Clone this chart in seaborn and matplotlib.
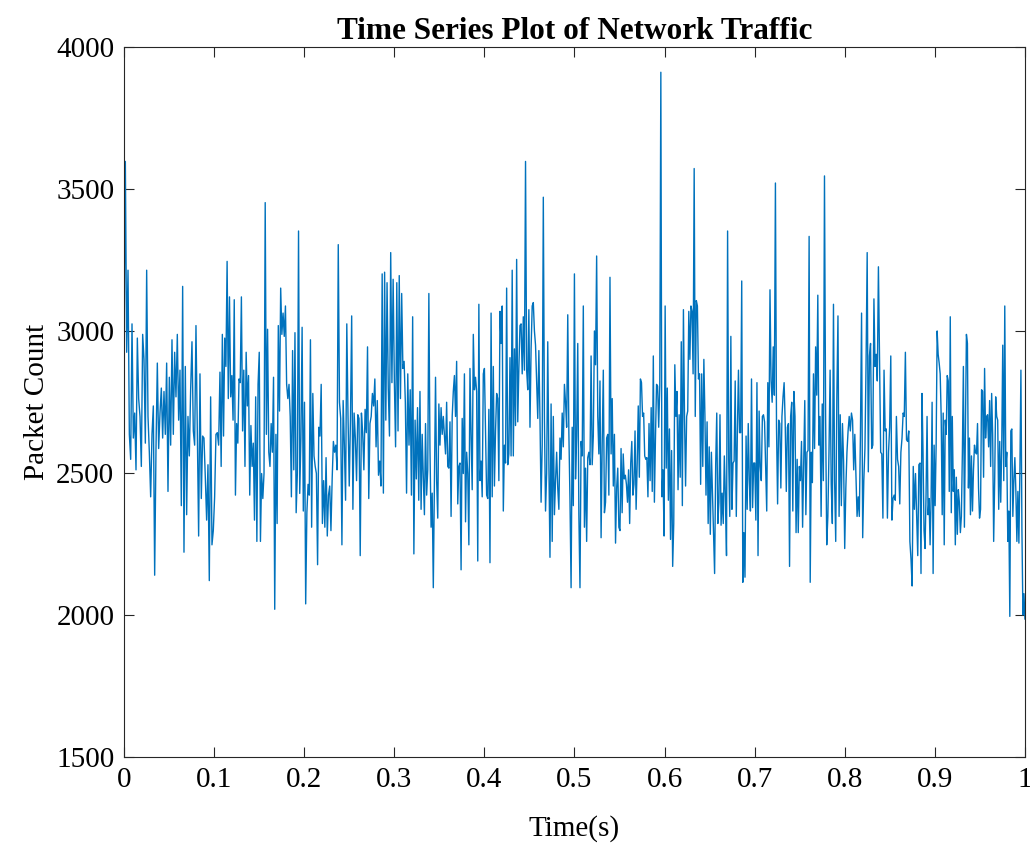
import matplotlib
matplotlib.use('Agg')
import matplotlib.pyplot as plt
import seaborn as sns
import pandas as pd
import numpy as np


# time (s) at which each block of readings starts/ends
segment_bounds = [0.0, 0.1065, 0.2175, 0.3285, 0.4395, 0.5505, 0.6615, 0.7725, 0.8835, 1.0]

seg1 = [2925, 3597, 2925, 3214, 2636, 2548, 3025, 2623, 2711, 2511, 2975, 2762, 2699, 2523, 2988,
        2900, 2605, 3214, 2699, 2573, 2416, 2636, 2736, 2140, 2586, 2887, 2586, 2711, 2799, 2623,
        2787, 2636, 2887, 2435, 2837, 2598, 2969, 2636, 2925, 2768, 2988, 2686, 2862, 2385, 3157,
        2221, 2875, 2353, 2699, 2560, 2793, 2962, 2648, 2598, 3019, 2636, 2278, 2849, 2410, 2630,
        2623, 2485, 2334, 2529, 2121, 2768, 2247, 2297, 2416, 2636, 2642, 2598]
seg2 = [2855, 2523, 2988, 2630, 2975, 2875, 3245, 2762, 3120, 2768, 2843, 2686, 3110, 2422, 2674,
        2605, 2831, 2818, 3120, 2648, 2862, 2523, 2925, 2736, 2843, 2422, 2667, 2523, 2605, 2334,
        2768, 2259, 2812, 2925, 2259, 2498, 2410, 2498, 3452, 2636, 3006, 2573, 2523, 2674, 2573,
        2837, 2020, 2636, 2322, 3019, 2718, 3151, 2988, 3063, 2981, 3088, 2812, 2762, 2812, 2699,
        2416, 2931, 2511, 2994, 2360, 2498, 3352, 2428, 2623, 3013, 2366, 2749, 2039, 2360, 2460,
        2422, 2969, 2309, 2780, 2560, 2523, 2498, 2177, 2661]
seg3 = [2630, 2812, 2322, 2473, 2309, 2554, 2278, 2422, 2454, 2297, 2479, 2611, 2573, 2598, 2511,
        3304, 2749, 2692, 2247, 2755, 2598, 2404, 3025, 2699, 2454, 2686, 3053, 2372, 2711, 2623,
        2473, 2705, 2692, 2209, 2711, 2642, 2511, 2724, 2642, 2944, 2410, 2674, 2699, 2780, 2736,
        2831, 2592, 2755, 2492, 2542, 2454, 3201, 2429, 3207, 2686, 3170, 2799, 2630, 3276, 2818,
        3182, 2824, 2592, 3170, 2648, 3195, 2762, 3132, 2868, 2893, 2749, 2429, 2849, 2598, 2793,
        2422, 3050, 2215, 2686, 2479, 2730, 2404]
seg4 = [2787, 2372, 2636, 2485, 2353, 2674, 2422, 2511, 3132, 2586, 2309, 2429, 2096, 2473, 2837,
        2473, 2341, 2743, 2598, 2730, 2636, 2699, 2630, 2567, 2749, 2523, 2517, 2680, 2347, 2699,
        2787, 2843, 2699, 2893, 2391, 2523, 2535, 2159, 2692, 2498, 2849, 2328, 2573, 2498, 2247,
        2868, 2636, 2441, 2988, 2793, 2837, 2787, 2190, 3094, 2473, 2542, 2416, 2849, 2868, 2636,
        2422, 2410, 2724, 2184, 3063, 2416, 2875, 2454, 2648, 2780, 2762, 2473, 3069, 2956, 3088,
        2366, 2598, 2535, 3151, 2529, 2567, 2906, 2560, 3214, 2560, 2937, 2667, 3252, 2680, 2868]
seg5 = [3019, 3025, 2849, 3050, 2862, 3597, 2862, 2793, 3075, 2661, 2937, 3088, 3100, 3000, 2950,
        2824, 2692, 2931, 2692, 2397, 2598, 3471, 2692, 2366, 2498, 2962, 2535, 2203, 2743, 2259,
        2699, 2353, 2473, 2573, 2447, 2372, 2623, 2548, 2711, 2592, 2812, 2749, 2661, 3057, 2642,
        2404, 2096, 2661, 2385, 3201, 2479, 2630, 2956, 2353, 2096, 2611, 2560, 3088, 2309, 2517,
        2259, 2554, 2573, 2529, 2912, 2529, 2630, 3000, 2881, 3264, 2699, 2567, 2824, 2272, 2605,
        2862, 2360, 2397, 2623, 2636, 2422, 3189, 2567, 2762, 2454, 2636, 2253, 2447, 2517, 2309]
seg6 = [2297, 2586, 2360, 2567, 2479, 2492, 2460, 2397, 2511, 2322, 2535, 2611, 2422, 2460, 2648,
        2372, 2535, 2736, 2485, 2831, 2818, 2699, 2711, 2560, 2548, 2554, 2416, 2674, 2473, 2730,
        2435, 2912, 2397, 2623, 2812, 2806, 2661, 2806, 3911, 2416, 2511, 2278, 3088, 2517, 2799,
        2404, 2655, 2266, 2579, 2171, 2322, 2881, 2699, 2787, 2441, 2705, 2485, 2962, 2385, 3075,
        2699, 2454, 2699, 2718, 3069, 2900, 3088, 3069, 2849, 3572, 2699, 3107, 3088, 2831, 2849,
        2460, 2849, 2523, 2900, 2699, 2422, 2680, 2322, 2592, 2284, 2573, 2435, 2309, 2146, 2529,
        2711, 2322, 2397]
seg7 = [2705, 2316, 2429, 2322, 2560, 2416, 2209, 3352, 2548, 2347, 2981, 2372, 2535, 2542, 2824,
        2347, 2648, 2862, 2642, 2642, 3176, 2115, 2290, 2133, 2630, 2372, 2674, 2473, 2366, 2831,
        2378, 2535, 2535, 2334, 2818, 2209, 2718, 2523, 2473, 2699, 2705, 2680, 2529, 2366, 2818,
        2592, 3145, 2824, 2749, 2944, 2774, 3521, 2661, 2391, 2686, 2674, 2447, 2699, 2768, 2818,
        2674, 2435, 2661, 2674, 2171, 2699, 2749, 2366, 2787, 2699, 2290, 2548, 2290, 2523, 2473,
        2611, 2309, 2535, 2755, 2353, 2573, 2579, 3333, 2115, 2573, 2466, 2849, 2586, 2944, 2774,
        3126, 2598]
seg8 = [2699, 2347, 2743, 2473, 3546, 2699, 2247, 2347, 2573, 2862, 2460, 2322, 3094, 2473, 2259,
        2768, 3053, 2347, 2705, 2385, 2674, 2542, 2234, 2447, 2573, 2648, 2699, 2648, 2711, 2686,
        2511, 2636, 2498, 2347, 2416, 2347, 2636, 3063, 2272, 2473, 2586, 2887, 3276, 2504, 2912,
        2956, 2586, 2598, 3113, 2875, 2918, 2824, 3226, 2900, 2573, 2567, 2341, 2862, 2648, 2655,
        2341, 2573, 2661, 2912, 2334, 2410, 2422, 2404, 2699, 2548, 2523, 2391, 2573, 2623, 2711,
        2699, 2925, 2617, 2611, 2648, 2259, 2196, 2102, 2523, 2372, 2498, 2347, 2209, 2529]
seg9 = [2535, 2146, 2780, 2573, 2297, 2234, 2422, 2699, 2353, 2410, 2247, 2410, 2749, 2146, 2598,
        2385, 2598, 3000, 2918, 2887, 2849, 2699, 2353, 2711, 2247, 2686, 2636, 2843, 2824, 2435,
        3050, 2360, 2699, 2435, 2511, 2247, 2485, 2284, 2441, 2397, 2290, 2347, 2573, 2875, 2309,
        2636, 2988, 2956, 2447, 2623, 2353, 2560, 2366, 2511, 2598, 2573, 2567, 2674, 2447, 2341,
        2372, 2793, 2787, 2485, 2868, 2623, 2699, 2705, 2592, 2755, 2523, 2780, 2636, 2259, 2473,
        2768, 2699, 2686, 2372, 2611, 2397, 2598, 2950, 2473, 3088, 2523, 2573, 2259, 2366, 1995,
        2648, 2655, 2347, 2473, 2554, 2435, 2259, 2435, 2253, 2511, 2862, 2297, 2000, 2075, 1985]

x_ticks = [0, 0.1, 0.2, 0.3, 0.4, 0.5, 0.6, 0.7, 0.8, 0.9, 1]
x_tick_labels = ['0', '0.1', '0.2', '0.3', '0.4', '0.5', '0.6', '0.7', '0.8', '0.9', '1']
y_ticks = [1500, 2000, 2500, 3000, 3500, 4000]

segments = [seg1, seg2, seg3, seg4, seg5, seg6, seg7, seg8, seg9]
times = []
for i, seg in enumerate(segments):
    last = i == len(segments) - 1
    times.append(np.linspace(segment_bounds[i], segment_bounds[i + 1], len(seg), endpoint=last))

frame = pd.DataFrame({'time': np.concatenate(times),
                      'packets': np.concatenate(segments)})

sns.set_style('ticks')
plt.rcParams['font.family'] = ['Liberation Serif', 'DejaVu Serif']
plt.rcParams['text.color'] = 'black'
plt.rcParams['axes.labelcolor'] = 'black'

fig = plt.figure(figsize=(10.3, 8.51), dpi=100)
ax = fig.add_axes([0.1204, 0.1105, 0.8747, 0.8343])

sns.lineplot(x='time', y='packets', data=frame, estimator=None,
             color='#0072BD', linewidth=1.0, ax=ax)

ax.set_xlim(0, 1)
ax.set_ylim(1500, 4000)
ax.set_xticks(x_ticks)
ax.set_xticklabels(x_tick_labels)
ax.set_yticks(y_ticks)
ax.tick_params(direction='in', length=7, width=0.8, top=True, right=True,
               labelsize=21, pad=7, colors='#262626', labelcolor='black')
for side in ax.spines.values():
    side.set_color('#262626')
    side.set_linewidth(0.8)

ax.set_title('Time Series Plot of Network Traffic', fontsize=22.5,
             fontweight='bold', pad=6, color='black')
ax.set_xlabel('Time(s)', fontsize=21, labelpad=16)
ax.set_ylabel('Packet Count', fontsize=21, labelpad=4)

plt.savefig('out.png', dpi=100)
